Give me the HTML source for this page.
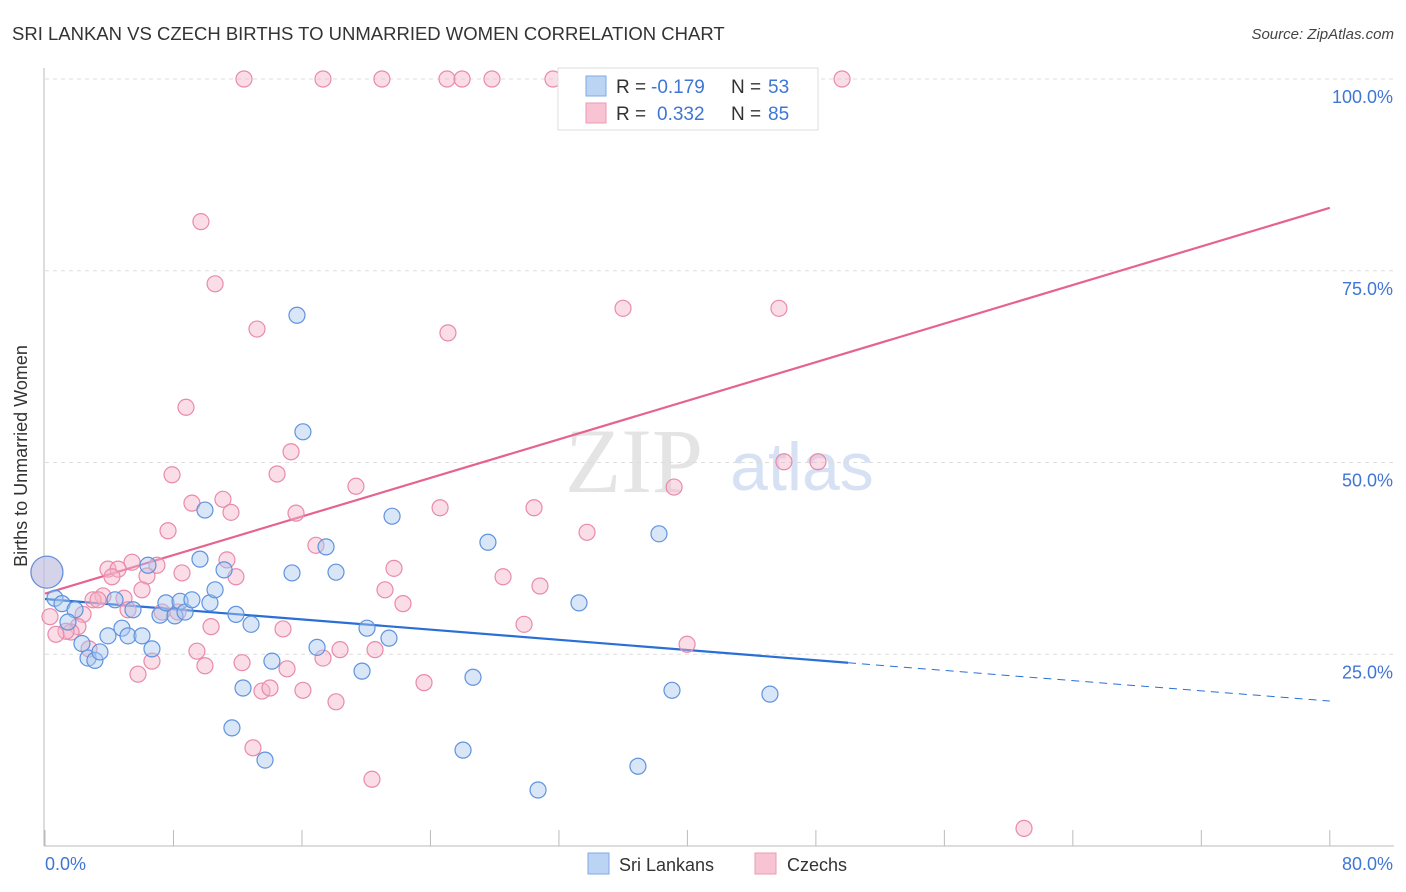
<!DOCTYPE html>
<html><head><meta charset="utf-8"><style>
body{margin:0;background:#fff;font-family:"Liberation Sans",sans-serif;}
svg{display:block}
</style></head><body>
<svg id="chart" width="1406" height="892">
<text x="12" y="40" font-size="18.5" fill="#333">SRI LANKAN VS CZECH BIRTHS TO UNMARRIED WOMEN CORRELATION CHART</text>
<text x="1394" y="39" font-size="15" fill="#444" font-style="italic" text-anchor="end">Source: ZipAtlas.com</text>
<text x="634" y="492" font-size="92" fill="#e4e4e4" font-family="Liberation Serif,serif" text-anchor="middle">ZIP</text>
<text x="802" y="490" font-size="68" fill="#d6e2f4" text-anchor="middle">atlas</text>
<g id="grid"></g><g id="axes"></g><g id="lines"></g><g id="pts"></g>
<text x="27" y="456" font-size="18" fill="#333" text-anchor="middle" transform="rotate(-90 27 456)">Births to Unmarried Women</text>
<g>
<rect x="558" y="68" width="260" height="62" fill="#fff" stroke="#ddd"/>
<rect x="586" y="76" width="20" height="20" fill="#bcd4f4" stroke="#7fa9e4"/>
<rect x="586" y="103" width="20" height="20" fill="#f8c4d4" stroke="#ec9ab6"/>
<text x="616" y="93" font-size="19" fill="#333">R =</text>
<text x="651" y="93" font-size="19" fill="#3f76d6">-0.179</text>
<text x="731" y="93" font-size="19" fill="#333">N =</text>
<text x="768" y="93" font-size="19" fill="#3f76d6">53</text>
<text x="616" y="120" font-size="19" fill="#333">R =</text>
<text x="657" y="120" font-size="19" fill="#3f76d6">0.332</text>
<text x="731" y="120" font-size="19" fill="#333">N =</text>
<text x="768" y="120" font-size="19" fill="#3f76d6">85</text>
</g>
<g>
<rect x="588" y="853" width="21" height="21" fill="#bcd4f4" stroke="#7fa9e4"/>
<text x="619" y="871" font-size="18" fill="#333">Sri Lankans</text>
<rect x="755" y="853" width="21" height="21" fill="#f8c4d4" stroke="#ec9ab6"/>
<text x="787" y="871" font-size="18" fill="#333">Czechs</text>
</g>
</svg>
<script>
const yTicks=[25,50,75,100];
const yTickLabels=["25.0%","50.0%","75.0%","100.0%"];
const xTickLabels=["0.0%","80.0%"];
const blueX=[0.12,0.62,1.06,1.87,1.43,2.30,2.68,3.11,3.42,3.92,4.36,4.79,5.17,5.48,6.04,6.41,6.66,7.16,7.53,8.09,8.41,8.72,9.15,9.65,9.96,10.27,10.59,11.15,11.89,12.33,12.83,11.64,13.70,14.13,15.38,15.69,16.06,16.94,17.50,18.12,19.74,20.05,21.42,21.61,26.03,26.65,27.58,30.70,33.25,36.92,38.23,39.04,45.14];
const blueY=[35.7,32.3,31.6,30.8,29.2,26.4,24.5,24.2,25.3,27.4,32.1,28.4,27.4,30.8,27.4,36.6,25.7,30.1,31.7,30.0,31.9,30.5,32.1,37.4,43.8,31.7,33.4,36.0,30.2,20.6,28.9,15.4,11.2,24.1,35.6,69.2,54.0,25.9,39.0,35.7,22.8,28.4,27.1,43.0,12.5,22.0,39.6,7.3,31.7,10.4,40.7,20.3,19.8];
const pinkX=[12.39,17.31,20.98,25.03,25.97,27.83,31.63,33.31,49.63,9.71,10.59,13.20,25.09,35.99,45.70,8.78,15.32,7.91,14.45,19.36,39.17,46.01,48.13,9.15,11.08,11.58,15.63,24.60,30.45,7.66,33.75,16.87,11.33,5.42,6.97,3.92,4.55,8.53,6.35,4.17,11.89,21.73,28.52,30.82,21.17,6.04,3.61,2.99,3.30,4.92,22.29,5.17,7.29,8.28,2.37,0.31,10.34,2.05,1.62,1.31,0.68,14.82,29.83,2.74,9.46,18.37,20.55,39.98,6.66,9.96,12.27,15.07,17.31,5.79,23.60,13.51,14.01,16.06,18.12,12.95,20.36,60.96,0.12];
const pinkY=[100,100,100,100,100,100,100,100,100,81.4,73.3,67.4,66.9,70.1,70.1,57.2,51.4,48.4,48.5,46.9,46.8,50.1,50.1,44.7,45.2,43.5,43.4,44.1,44.1,41.1,40.9,39.2,37.3,37.0,36.6,36.1,36.1,35.6,35.2,35.1,35.1,36.2,35.1,33.9,33.4,33.4,32.6,32.1,32.1,32.3,31.6,30.8,30.5,30.5,30.2,29.9,28.6,28.6,27.9,28.0,27.6,28.3,28.9,25.7,25.4,25.6,25.6,26.3,24.1,23.5,23.9,23.1,24.5,22.4,21.3,20.2,20.6,20.3,18.8,12.8,8.7,2.3,35.7];
const blueTrend=[32.2,18.9];const pinkTrend=[32.9,83.2];
const NS="http://www.w3.org/2000/svg";
const X=v=>45+v*16.06, Y=v=>846-v*7.67;
function mk(p,tag,a){const e=document.createElementNS(NS,tag);for(const k in a)e.setAttribute(k,a[k]);document.getElementById(p).appendChild(e);return e;}
yTicks.forEach((t,i)=>{
 const g=mk('grid','line',{x1:45,x2:1394,y1:Y(t),y2:Y(t),stroke:'#ddd','stroke-dasharray':'4,4'});
 
 
 const l=mk('axes','text',{x:1393,y:Y(t)+24,'font-size':18,fill:'#3f76d6','text-anchor':'end'});l.textContent=yTickLabels[i];
 
 
});
mk('axes','line',{x1:44,x2:44,y1:68,y2:846,stroke:'#bbb'});
mk('axes','line',{x1:44,x2:1394,y1:846,y2:846,stroke:'#bbb'});
for(let i=0;i<=10;i++){const t=mk('axes','line',{x1:X(i*8),x2:X(i*8),y1:830,y2:846,stroke:'#bbb'});
 
 }
[[0,45,'start'],[80,1393,'end']].forEach((d,i)=>{const l=mk('axes','text',{x:d[1],y:870,'font-size':18,fill:'#3f76d6','text-anchor':d[2]});l.textContent=xTickLabels[i];
 
 });
function pts(xs,ys,fill,stroke,name){xs.forEach((x,i)=>{const c=mk('pts','circle',{cx:X(x),cy:Y(ys[i]),r:(x<0.2&&ys[i]>35)?16:8,fill:fill,'fill-opacity':0.45,stroke:stroke,'stroke-width':1.2});
 
 });}
pts(pinkX,pinkY,'#f4b4c8','#e98aab','czech-point');
pts(blueX,blueY,'#a9c8f0','#5f93de','sri-lankan-point');
const bAt=x=>blueTrend[0]+(blueTrend[1]-blueTrend[0])*x/80;
const b1=mk('lines','line',{x1:X(0),y1:Y(bAt(0)),x2:X(50),y2:Y(bAt(50)),stroke:'#2a6fd6','stroke-width':2.2});


const b2=mk('lines','line',{x1:X(50),y1:Y(bAt(50)),x2:X(80),y2:Y(bAt(80)),stroke:'#2a6fd6','stroke-width':1,'stroke-dasharray':'8,6'});


const p1=mk('lines','line',{x1:X(0),y1:Y(pinkTrend[0]),x2:X(80),y2:Y(pinkTrend[1]),stroke:'#e5648f','stroke-width':2.2});


</script>
</body></html>
